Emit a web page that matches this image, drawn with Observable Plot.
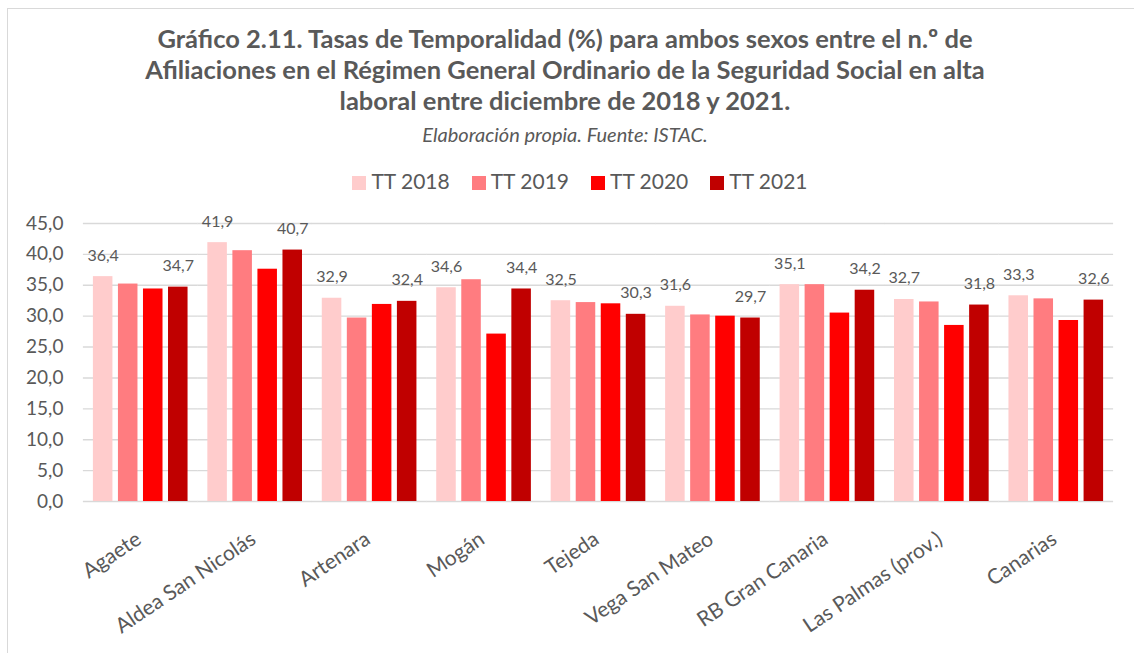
<!DOCTYPE html>
<html><head><meta charset="utf-8">
<script src="https://cdn.jsdelivr.net/npm/d3@7"></script>
<script src="https://cdn.jsdelivr.net/npm/@observablehq/plot@0.6"></script>
<style>
body{margin:0;background:#fff;font-family:Lato,"Open Sans",sans-serif;color:#595959;overflow:hidden;}
#frame{position:absolute;left:7px;top:8px;width:1140px;height:660px;border:1px solid #d9d9d9;}
#title{position:absolute;left:0;width:1130px;top:23px;text-align:center;font-weight:bold;font-size:25.5px;line-height:31px;}
#sub{position:absolute;left:0;width:1130px;top:122px;text-align:center;font-style:italic;font-size:20px;}
#legend{position:absolute;top:168px;left:15px;width:1130px;text-align:center;font-size:21px;line-height:25px;}
#legend span.item{display:inline-block;margin:0 11px;}
#legend span.sw{display:inline-block;width:14px;height:14px;margin-right:5px;vertical-align:-1px;}
#chart{position:absolute;top:200px;left:0;}
</style></head>
<body>
<div id="frame"></div>
<div id="title">Gráfico 2.11. Tasas de Temporalidad (%) para ambos sexos entre el n.º de<br>Afiliaciones en el Régimen General Ordinario de la Seguridad Social en alta<br>laboral entre diciembre de 2018 y 2021.</div>
<div id="sub">Elaboración propia. Fuente: ISTAC.</div>
<div id="legend"></div>
<div id="chart"></div>
<script>
const categories = ["Agaete","Aldea San Nicolás","Artenara","Mogán","Tejeda","Vega San Mateo","RB Gran Canaria","Las Palmas (prov.)","Canarias"];
const series = ["TT 2018","TT 2019","TT 2020","TT 2021"];
const tt2018 = [36.4,41.9,32.9,34.6,32.5,31.6,35.1,32.7,33.3];
const tt2019 = [35.2,40.6,29.7,35.9,32.2,30.2,35.1,32.3,32.8];
const tt2020 = [34.4,37.6,31.9,27.1,32.0,30.0,30.5,28.5,29.3];
const tt2021 = [34.7,40.7,32.4,34.4,30.3,29.7,34.2,31.8,32.6];
const labeledSeries = ["TT 2018","TT 2021"];
const colors = ["#FFCCCC","#FF7C80","#FF0000","#C00000"];
const yTicks = [0,5,10,15,20,25,30,35,40,45];

const values = [tt2018, tt2019, tt2020, tt2021];
const data = [];
categories.forEach((c, i) => series.forEach((s, j) => data.push({cat: c, series: s, value: values[j][i]})));
const fmt = v => v.toFixed(1).replace(".", ",");

const legend = document.getElementById("legend");
series.forEach((s, j) => {
  const it = document.createElement("span"); it.className = "item";
  const sw = document.createElement("span"); sw.className = "sw"; sw.style.background = colors[j];
  it.appendChild(sw); it.appendChild(document.createTextNode(s));
  legend.appendChild(it);
});

const chart = Plot.plot({
  width: 1134, height: 453,
  marginTop: 23, marginBottom: 152, marginLeft: 83, marginRight: 21,
  style: {fontFamily: "Lato, 'Open Sans', sans-serif", fontSize: "18px", color: "#595959", background: "transparent"},
  fx: {domain: categories, paddingInner: 0.173, paddingOuter: 0.0865, round: false, axis: null, label: null},
  x: {domain: series, paddingInner: 0.22, paddingOuter: 0, round: false, axis: null},
  y: {domain: [0, 45], axis: null},
  color: {domain: series, range: colors},
  marks: [
    Plot.ruleY(yTicks, {y: d => d, stroke: "#d9d9d9", strokeWidth: 1.4, insetLeft: -10, insetRight: -10}),
    Plot.axisY(yTicks, {tickSize: 0, tickPadding: 30, tickFormat: fmt, label: null, fontSize: 19, fill: "#595959"}),
    Plot.barY(data, {fx: "cat", x: "series", y: "value", fill: "series"}),
    Plot.text(data.filter(d => labeledSeries.includes(d.series)), {fx: "cat", x: "series", y: "value", text: d => fmt(d.value), lineAnchor: "bottom", dy: -16, fontSize: 16, fill: "#595959"}),
    Plot.text(categories, {fx: d => d, text: d => d, frameAnchor: "bottom", rotate: -34, textAnchor: "end", lineAnchor: "bottom", dx: 2, dy: 41, fontSize: 21, fill: "#595959"})
  ]
});
document.getElementById("chart").appendChild(chart);
</script>
</body></html>
